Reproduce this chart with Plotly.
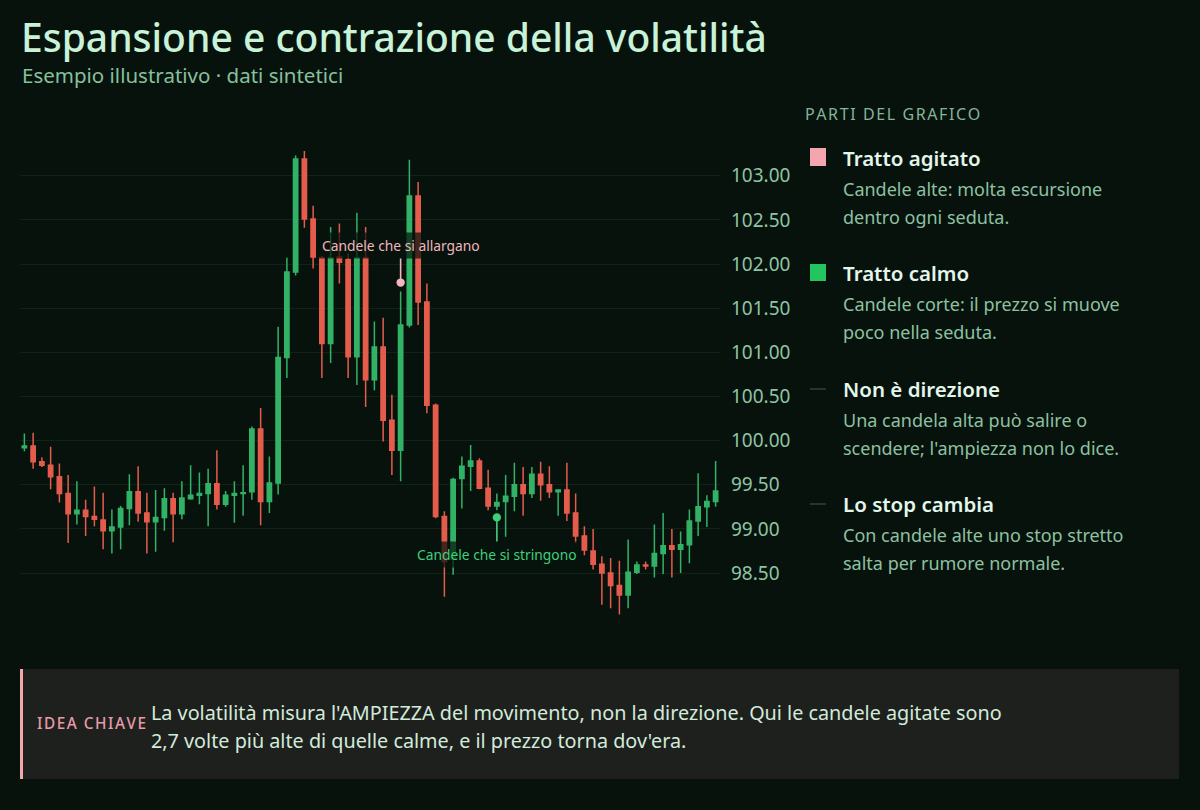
import plotly.graph_objects as go

# ---------------- data ----------------
sessions = list(range(80))
opens = [99.92, 99.94, 99.76, 99.72, 99.59, 99.40, 99.17, 99.21, 99.14, 99.10,
         98.98, 99.02, 99.23, 99.42, 99.18, 99.08, 99.13, 99.34, 99.17, 99.34,
         99.38, 99.40, 99.51, 99.28, 99.38, 99.40, 99.42, 100.13, 99.31, 99.52,
         100.94, 101.91, 103.19, 102.51, 102.07, 101.10, 102.08, 102.05, 100.95, 102.07,
         100.69, 101.06, 100.23, 99.89, 101.31, 102.77, 101.57, 100.40, 99.14, 98.66,
         99.57, 99.71, 99.77, 99.46, 99.26, 99.31, 99.37, 99.50, 99.40, 99.62,
         99.50, 99.42, 99.44, 99.18, 98.92, 98.75, 98.60, 98.50, 98.36, 98.25,
         98.51, 98.59, 98.58, 98.72, 98.81, 98.77, 98.82, 99.09, 99.25, 99.31]
highs = [100.08, 100.09, 99.81, 99.93, 99.74, 99.61, 99.54, 99.33, 99.48, 99.41,
         99.22, 99.26, 99.62, 99.71, 99.41, 99.44, 99.46, 99.41, 99.54, 99.72,
         99.64, 99.68, 99.89, 99.43, 99.54, 99.72, 100.16, 100.37, 99.82, 101.29,
         102.07, 103.23, 103.28, 102.66, 102.09, 102.42, 102.46, 102.12, 102.58, 102.42,
         101.35, 101.39, 100.52, 101.69, 103.18, 102.93, 101.78, 100.42, 99.20, 99.58,
         99.82, 99.95, 99.80, 99.67, 99.40, 99.61, 99.75, 99.70, 99.70, 99.76,
         99.71, 99.44, 99.75, 99.40, 99.03, 99.00, 98.69, 98.67, 98.64, 98.88,
         98.63, 98.63, 99.05, 99.18, 99.00, 98.97, 99.22, 99.63, 99.38, 99.77]
lows = [99.88, 99.68, 99.70, 99.45, 99.30, 98.84, 99.05, 98.92, 99.03, 98.77,
        98.72, 98.77, 99.04, 99.08, 98.72, 98.74, 98.98, 98.85, 99.11, 99.33,
        99.28, 99.03, 99.22, 99.25, 99.07, 99.15, 99.33, 99.04, 99.18, 99.39,
        100.71, 101.87, 102.41, 101.95, 100.71, 100.88, 101.78, 100.71, 100.63, 100.38,
        100.57, 99.99, 99.61, 99.54, 101.28, 101.31, 100.31, 99.12, 98.23, 98.48,
        99.23, 99.43, 99.45, 99.21, 99.21, 98.91, 99.20, 99.15, 99.35, 99.32,
        99.35, 99.15, 99.09, 98.84, 98.70, 98.54, 98.14, 98.10, 98.03, 98.10,
        98.49, 98.54, 98.45, 98.49, 98.45, 98.50, 98.61, 98.92, 99.02, 99.25]
closes = [99.94, 99.76, 99.72, 99.59, 99.40, 99.17, 99.21, 99.14, 99.11, 98.98,
          99.02, 99.23, 99.42, 99.18, 99.08, 99.13, 99.34, 99.17, 99.35, 99.38,
          99.40, 99.51, 99.28, 99.38, 99.40, 99.41, 100.13, 99.31, 99.52, 100.94,
          101.91, 103.19, 102.51, 102.08, 101.10, 102.07, 102.02, 100.95, 102.07, 100.69,
          101.06, 100.23, 99.89, 101.31, 102.77, 101.57, 100.40, 99.14, 98.63, 99.56,
          99.71, 99.77, 99.46, 99.26, 99.30, 99.37, 99.50, 99.40, 99.62, 99.50,
          99.42, 99.44, 99.18, 98.92, 98.76, 98.60, 98.50, 98.36, 98.25, 98.51,
          98.59, 98.58, 98.72, 98.81, 98.77, 98.82, 99.09, 99.25, 99.31, 99.43]

tick_values = [98.5, 99.0, 99.5, 100.0, 100.5, 101.0, 101.5, 102.0, 102.5, 103.0]
tick_labels = ["98.50", "99.00", "99.50", "100.00", "100.50", "101.00", "101.50", "102.00", "102.50", "103.00"]

callout_sessions = [43, 54]
callout_prices = [101.79, 99.13]
callout_texts = ["Candele che si allargano", "Candele che si stringono"]

title_text = "Espansione e contrazione della volatilità"
subtitle_text = "Esempio illustrativo · dati sintetici"
panel_heading = "PARTI DEL GRAFICO"
panel_titles = ["Tratto agitato", "Tratto calmo", "Non è direzione", "Lo stop cambia"]
panel_lines = [
    ["Candele alte: molta escursione", "dentro ogni seduta."],
    ["Candele corte: il prezzo si muove", "poco nella seduta."],
    ["Una candela alta può salire o", "scendere; l'ampiezza non lo dice."],
    ["Con candele alte uno stop stretto", "salta per rumore normale."],
]
key_label = "IDEA CHIAVE"
key_lines = [
    "La volatilità misura l'AMPIEZZA del movimento, non la direzione. Qui le candele agitate sono",
    "2,7 volte più alte di quelle calme, e il prezzo torna dov'era.",
]

# ---------------- style ----------------
FONT = "Noto Sans"
BG = "#07120d"
UP = "#32b266"
DOWN = "#e45c4c"
PINK = "#f4a6ae"
GREEN = "#22c55e"

W, H = 1200, 810
PL, PR, PT, PB = 20, 720, 136, 626  # plot area in pixels


def pxx(x):
    return (x - PL) / (PR - PL)


def pxy(y):
    return (PB - y) / (PB - PT)


fig = go.Figure()
fig.add_trace(go.Candlestick(
    x=sessions, open=opens, high=highs, low=lows, close=closes,
    increasing=dict(line=dict(color=UP, width=1.5), fillcolor=UP),
    decreasing=dict(line=dict(color=DOWN, width=1.5), fillcolor=DOWN),
    showlegend=False, hoverinfo="skip",
))

ann = []


def text(x, y, s, size, color, weight=400, xanchor="left"):
    ann.append(dict(xref="paper", yref="paper", x=pxx(x), y=pxy(y), text=s,
                    showarrow=False, xanchor=xanchor, yanchor="middle", borderpad=0,
                    font=dict(family=FONT, size=size, color=color, weight=weight)))


text(20, 36, title_text, 39, "#c8f3d8", 500)
text(21, 75, subtitle_text, 20.5, "#86c09c")
text(804, 114, "\u200a".join(panel_heading), 16, "#86b49a")

item_y = [158, 273, 389, 504]
for k in range(4):
    y0 = item_y[k]
    text(842, y0, panel_titles[k], 20.5, "#e3f6ea", 600)
    text(842, y0 + 31, panel_lines[k][0], 18, "#8dc1a1")
    text(842, y0 + 59, panel_lines[k][1], 18, "#8dc1a1")

text(36, 723, "\u200a".join(key_label), 15.3, "#e89aa6", 500)
text(150, 712, key_lines[0], 19.8, "#d3ebda")
text(150, 740, key_lines[1], 19.8, "#d3ebda")

# callouts
callout_colors = ["#f2b6be", "#3fd07c"]
callout_ay = [-37, 37]
for s, p, t, c, ay in zip(callout_sessions, callout_prices, callout_texts, callout_colors, callout_ay):
    ann.append(dict(x=s, y=p, xref="x", yref="y", text=t, showarrow=True,
                    ax=0, ay=ay, arrowhead=6, arrowsize=1.3, arrowwidth=1.6,
                    arrowcolor=c, standoff=0,
                    bgcolor="rgba(7,18,13,0.72)", borderpad=3,
                    font=dict(family=FONT, size=13.8, color=c)))

shapes = []
# legend markers
shapes.append(dict(type="rect", xref="paper", yref="paper", x0=pxx(810), x1=pxx(826), y0=pxy(166), y1=pxy(148),
                   fillcolor=PINK, line=dict(width=0), layer="above"))
shapes.append(dict(type="rect", xref="paper", yref="paper", x0=pxx(810), x1=pxx(826), y0=pxy(281), y1=pxy(264),
                   fillcolor=GREEN, line=dict(width=0), layer="above"))
for yy in [389, 504]:
    shapes.append(dict(type="line", xref="paper", yref="paper", x0=pxx(810), x1=pxx(826), y0=pxy(yy), y1=pxy(yy),
                       line=dict(color="#34503f", width=1.2), layer="above"))
# key idea box
shapes.append(dict(type="rect", xref="paper", yref="paper", x0=pxx(20), x1=pxx(1179), y0=pxy(779), y1=pxy(669),
                   fillcolor="#1e201e", line=dict(width=0), layer="below"))
shapes.append(dict(type="rect", xref="paper", yref="paper", x0=pxx(20), x1=pxx(23), y0=pxy(779), y1=pxy(669),
                   fillcolor=PINK, line=dict(width=0), layer="above"))

fig.update_layout(
    width=W, height=H,
    paper_bgcolor=BG, plot_bgcolor=BG,
    margin=dict(l=PL, r=W - PR, t=PT, b=H - PB, pad=0),
    font=dict(family=FONT, color="#8fc4a3"),
    annotations=ann, shapes=shapes,
    showlegend=False,
    xaxis=dict(range=[-0.5, 79.5], showgrid=False, zeroline=False, showticklabels=False,
               rangeslider=dict(visible=False), fixedrange=True),
    yaxis=dict(range=[97.9, 103.45], side="right", tickvals=tick_values, ticktext=tick_labels,
               showgrid=True, gridcolor="rgba(120,200,150,0.09)", gridwidth=1, zeroline=False,
               ticks="", ticklabelstandoff=10,
               tickfont=dict(family=FONT, size=19, color="#8fc4a3"), fixedrange=True),
)

fig.write_html("out.html", config={"displayModeBar": False},
               post_script="document.body.style.margin='0';document.body.style.background='%s';" % BG)
